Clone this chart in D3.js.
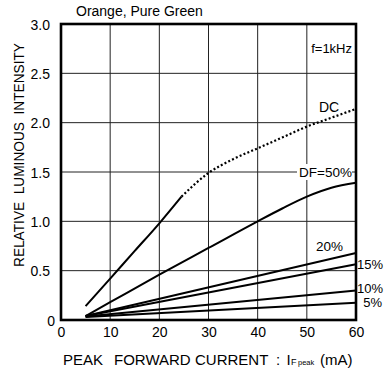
<!DOCTYPE html>
<html><head><meta charset="utf-8">
<script src="https://cdn.jsdelivr.net/npm/d3@7"></script>
<style>body{margin:0;background:#fff}svg{display:block;font-family:"Liberation Sans",Arial,sans-serif}text{white-space:pre}</style>
</head><body><svg id="c" width="385" height="373"></svg>
<script>
const xTicks = [0,10,20,30,40,50,60];
const yTicks = [0,0.5,1.0,1.5,2.0,2.5,3.0];
const yTickLabels = ["0","0.5","1.0","1.5","2.0","2.5","3.0"];
const dcSolid = [[5,0.14],[10,0.42],[15,0.7],[20,0.98],[24.5,1.25]];
const dcDotted = [[24.5,1.25],[30,1.49],[35,1.63],[40,1.74],[45,1.85],[50,1.96],[55,2.05],[60,2.14]];
const df50 = [[5,0.04],[10,0.18],[20,0.46],[30,0.73],[40,1.0],[45,1.13],[50,1.25],[55,1.34],[60,1.39]];
const df20 = [[5,0.04],[60,0.68]];
const df15 = [[5,0.04],[60,0.565]];
const df10 = [[5,0.035],[60,0.30]];
const df5 = [[5,0.03],[60,0.175]];

const svg = d3.select("#c");
const L=61,R=356,T=24,B=320;
const x = d3.scaleLinear().domain([0,60]).range([L,R]);
const y = d3.scaleLinear().domain([0,3]).range([B,T]);

// grid
svg.append("g").selectAll("line").data(xTicks.slice(1,-1)).join("line")
 .attr("x1",d=>x(d)).attr("x2",d=>x(d)).attr("y1",T).attr("y2",B)
 .attr("stroke","#222").attr("stroke-width",1);
svg.append("g").selectAll("line").data(yTicks.slice(1,-1)).join("line")
 .attr("x1",L).attr("x2",R).attr("y1",d=>y(d)).attr("y2",d=>y(d))
 .attr("stroke","#222").attr("stroke-width",1);

const line = d3.line().x(d=>x(d[0])).y(d=>y(d[1])).curve(d3.curveMonotoneX);
const g = svg.append("g").attr("fill","none").attr("stroke","#000").attr("stroke-width",2);
[dcSolid,df50,df20,df15,df10,df5].forEach(s=>g.append("path").attr("d",line(s)));
g.append("path").attr("d",line(dcDotted)).attr("stroke-dasharray","2,2.2").attr("stroke-width",2.2);

// frame
svg.append("rect").attr("x",L).attr("y",T).attr("width",R-L).attr("height",B-T)
 .attr("fill","none").attr("stroke","#000").attr("stroke-width",2.6);

// axes
const xa = d3.axisBottom(x).tickValues(xTicks).tickSize(0).tickPadding(0).tickFormat(d3.format("d"));
svg.append("g").attr("transform",`translate(0,${B})`).call(xa)
 .call(s=>{s.select(".domain").remove();s.selectAll("text").attr("y",17).attr("dy",null).attr("font-size",14).attr("fill","#000").attr("font-family","Liberation Sans, Arial, sans-serif");});
const ya = d3.axisLeft(y).tickValues(yTicks).tickSize(0).tickPadding(0).tickFormat((d,i)=>yTickLabels[i]);
svg.append("g").attr("transform",`translate(${L},0)`).call(ya)
 .call(s=>{s.select(".domain").remove();s.selectAll("text").attr("x",d=>d===0?-6:-11).attr("dy","0.36em").attr("font-size",14).attr("fill","#000").attr("font-family","Liberation Sans, Arial, sans-serif");});

// labels
const txt=(t,xx,yy,anchor,fs)=>svg.append("text").attr("x",xx).attr("y",yy).attr("text-anchor",anchor||"start").attr("font-size",fs||13).text(t);
txt("Orange, Pure Green",76,16,"start",14);
txt("f=1kHz",352,53,"end",13);
txt("DC",329,112,"middle",14);
svg.append("rect").attr("x",297).attr("y",y(1.5)-8).attr("width",55).attr("height",16).attr("fill","#fff");
txt("DF=50%",325.5,176.5,"middle",13.5);
txt("20%",329.5,250.5,"middle",13.5);
txt("15%",357,268.5,"start",13);
txt("10%",357,292.5,"start",13);
txt("5%",382,307,"end",13);

svg.append("text").attr("transform","translate(24,155) rotate(-90)").attr("text-anchor","middle").attr("font-size",14).attr("textLength",224).attr("lengthAdjust","spacingAndGlyphs").text("RELATIVE  LUMINOUS  INTENSITY");
const xl = svg.append("text").attr("y",365).attr("text-anchor","start").attr("font-size",15);
xl.append("tspan").attr("x",63).text("PEAK");
xl.append("tspan").attr("x",114).text("FORWARD");
xl.append("tspan").attr("x",195).text("CURRENT");
xl.append("tspan").attr("x",276).text(":");
xl.append("tspan").attr("x",286.5).text("I");
xl.append("tspan").attr("x",291).attr("font-size",9).text("F");
xl.append("tspan").attr("x",298).attr("font-size",7.5).text("peak");
xl.append("tspan").attr("x",320).attr("font-size",15).text("(mA)");
</script></body></html>
